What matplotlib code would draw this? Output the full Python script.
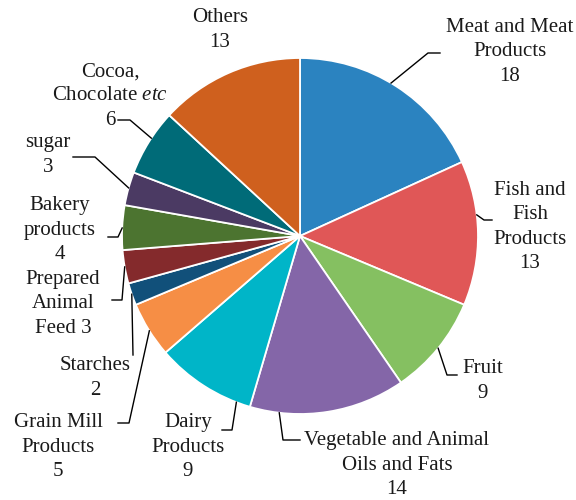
import matplotlib
matplotlib.use("Agg")
import matplotlib.pyplot as plt
import numpy as np

categories = ["Meat and Meat\nProducts", "Fish and\nFish\nProducts", "Fruit",
              "Vegetable and Animal\nOils and Fats", "Dairy\nProducts",
              "Grain Mill\nProducts", "Starches", "Prepared\nAnimal\nFeed",
              "Bakery\nproducts", "sugar", "Cocoa,\nChocolate $\\mathit{etc}$", "Others"]
values = [18, 13, 9, 14, 9, 5, 2, 3, 4, 3, 6, 13]
colors = ["#2b83c0", "#e05757", "#85c061", "#8466a8", "#00b5c8", "#f68e45",
          "#11507a", "#842a2c", "#4c7430", "#4b3a63", "#006b78", "#cf601e"]

# label layout (pixel coords, y from top)
text_pos = [(510, 52), (530, 227), (483, 381), (397, 465), (188, 447), (58, 447),
            (95, 378), (63, 304), (60, 230), (48, 155), (110, 96), (220, 30)]
anchor_frac = [0.47, 0.375, 0.5, 0.81, 0.14, 0.48, 0.5, 0.5, 0.49, 0.52, 0.57, None]
leader_pts = [[(428, 53), (440, 53)], [(484, 220), (492, 220)], [(447, 375), (457, 375)],
              [(283, 440), (300, 440)], [(232, 430), (222, 430)], [(129, 423), (118, 423)],
              [(133, 355)], [(122, 300), (112, 300)], [(118, 237), (108, 237)],
              [(95, 157), (73, 157)], [(130, 120), (118, 120)], None]

plt.rcParams['mathtext.fontset'] = 'custom'
plt.rcParams['mathtext.rm'] = 'Liberation Serif'
plt.rcParams['mathtext.it'] = 'Liberation Serif:italic'

W, H = 576, 500
fig = plt.figure(figsize=(W / 100, H / 100), dpi=100)
ax = fig.add_axes([0, 0, 1, 1])

cx, cy, R = 300, H - 236, 178
wedges, _ = ax.pie(values, colors=colors, startangle=90, counterclock=False,
                   center=(cx, cy), radius=R, frame=True,
                   wedgeprops=dict(edgecolor='white', linewidth=1.3))
ax.set_xlim(0, W)
ax.set_ylim(0, H)
ax.set_aspect('equal')
ax.axis('off')

for i, w in enumerate(wedges):
    label = f"{categories[i]}\n{values[i]}"
    if categories[i].startswith("Prepared"):
        label = f"Prepared\nAnimal\nFeed {values[i]}"
    tx, ty = text_pos[i]
    ax.text(tx, H - ty, label, ha='center', va='center', multialignment='center',
            fontsize=15, family='Liberation Serif', linespacing=1.38, color='#1a1a1a')
    if anchor_frac[i] is not None:
        t1, t2 = w.theta1, w.theta2
        ang = np.deg2rad(t2 - anchor_frac[i] * (t2 - t1))
        ax_ = cx + R * np.cos(ang)
        ay_ = cy + R * np.sin(ang)
        xs = [ax_] + [p[0] for p in leader_pts[i]]
        ys = [ay_] + [H - p[1] for p in leader_pts[i]]
        ax.plot(xs, ys, color='black', lw=1.0)

fig.savefig("out.png", dpi=100)
